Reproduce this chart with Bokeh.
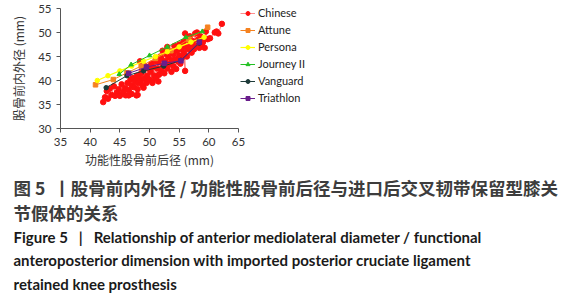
from bokeh.plotting import figure
from bokeh.models import Legend, LegendItem, FixedTicker, Range1d, LinearAxis
from bokeh.core.properties import value
from bokeh.embed import file_html
from bokeh.resources import INLINE

# ---- data ----
chinese_x = [42.2, 42.5, 42.8, 43.0, 43.3, 43.6, 44.0, 44.2, 44.5, 44.8, 45.0, 45.0, 45.3, 45.6, 45.9,
             46.0, 46.3, 46.5, 46.5, 46.8, 47.0, 47.0, 47.2, 47.4, 47.6, 47.8, 47.9, 48.0, 48.0, 48.1,
             48.2, 48.4, 48.5, 48.6, 48.8, 49.0, 49.0, 49.1, 49.3, 49.5, 49.6, 49.8, 50.0, 50.2, 50.3,
             50.5, 50.5, 50.6, 50.8, 51.0, 51.1, 51.3, 51.5, 51.5, 51.6, 51.8, 52.0, 52.0, 52.2, 52.3,
             52.5, 52.6, 52.8, 53.0, 53.0, 53.2, 53.4, 53.5, 53.7, 53.8, 54.0, 54.0, 54.2, 54.4, 54.5,
             54.6, 54.8, 55.0, 55.0, 55.2, 55.4, 55.5, 55.7, 55.8, 56.0, 56.0, 56.1, 56.3, 56.4, 56.6,
             56.8, 57.0, 57.1, 57.3, 57.5, 57.7, 57.8, 58.0, 58.2, 58.4, 58.6, 58.8, 59.0, 59.3, 59.5,
             59.8, 60.2, 61.0, 61.3, 61.6, 62.2]
chinese_y = [35.5, 36.5, 37.8, 36.2, 38.3, 37.0, 38.8, 36.8, 37.5, 38.2, 37.0, 36.8, 39.2, 37.6, 38.4,
             36.9, 39.5, 38.0, 36.9, 40.2, 37.2, 39.0, 40.5, 38.6, 39.8, 36.9, 41.0, 38.2, 37.0, 39.5,
             40.6, 44.0, 40.0, 41.5, 39.0, 42.2, 38.5, 40.4, 43.0, 39.5, 41.0, 42.5, 40.2, 41.8, 43.5,
             39.8, 39.5, 42.8, 41.0, 44.0, 40.5, 42.5, 43.8, 39.8, 41.2, 45.0, 42.0, 44.6, 46.2, 43.0,
             41.5, 44.0, 45.5, 42.5, 47.0, 44.8, 43.5, 46.0, 41.8, 44.2, 45.5, 43.0, 47.2, 44.5, 42.4,
             46.2, 44.0, 45.2, 47.5, 43.5, 46.5, 44.8, 48.0, 45.8, 42.0, 49.8, 47.0, 45.0, 48.5, 46.5,
             49.2, 47.5, 45.8, 48.2, 46.5, 49.8, 47.2, 50.0, 48.5, 46.8, 49.2, 47.5, 48.0, 46.8, 50.2,
             48.6, 48.8, 50.0, 50.2, 49.8, 51.8]

attune_x = [40.9, 43.9, 46.2, 48.6, 51.0, 53.6, 56.6, 59.8]
attune_y = [39.1, 40.2, 41.6, 43.0, 44.6, 46.2, 48.6, 51.1]

persona_x = [41.2, 43.0, 45.0, 47.0, 49.0, 51.0, 53.0, 55.0, 57.0, 59.2]
persona_y = [40.0, 41.0, 42.0, 43.0, 44.0, 45.0, 46.0, 47.0, 48.0, 49.0]

journey_x = [44.9, 46.9, 50.0, 53.0, 56.1, 58.9]
journey_y = [41.3, 43.3, 45.2, 47.0, 49.0, 50.2]

vanguard_x = [42.7, 46.2, 49.0, 52.4, 55.3, 58.4]
vanguard_y = [38.5, 41.0, 42.0, 43.0, 44.2, 47.8]

triathlon_x = [46.5, 49.5, 52.5, 55.3, 58.4]
triathlon_y = [41.5, 42.8, 43.6, 44.1, 48.0]

x_ticks = [35, 40, 45, 50, 55, 60, 65]
y_ticks = [30, 35, 40, 45, 50, 55]

series_names = ["Chinese", "Attune", "Persona", "Journey II", "Vanguard", "Triathlon"]

x_label = "功能性股骨前后径 (mm)"
y_label = "股骨前内外径 (mm)"
caption_cn = ["图 5\u00a0\u00a0丨股骨前内外径 / 功能性股骨前后径与进口后交叉韧带保留型膝关",
              "节假体的关系"]
caption_en = ["Figure 5\u00a0\u00a0\u00a0|\u00a0\u00a0\u00a0Relationship of anterior mediolateral diameter / functional",
              "anteroposterior dimension with imported posterior cruciate ligament",
              "retained knee prosthesis"]

# ---- layout: the frame spans the whole canvas; the axis box sits at pixels
# x 60..238 and y 8..128 ----
W, H = 577, 300
PX0, PX1, PY0, PY1 = 60, 238, 8, 128
X0, X1, Y0, Y1 = x_ticks[0], x_ticks[-1], y_ticks[0], y_ticks[-1]
kx = (PX1 - PX0) / (X1 - X0)
ky = (PY1 - PY0) / (Y1 - Y0)
xr = Range1d(X0 - PX0 / kx, X0 + (W - PX0) / kx)
yr = Range1d(Y0 - (H - PY1) / ky, Y1 + PY0 / ky)

def px_x(px):
    return X0 + (px - PX0) / kx

def px_y(py):
    return Y0 + (PY1 - py) / ky

p = figure(width=W, height=H, output_backend="svg", toolbar_location=None,
           x_range=xr, y_range=yr, x_axis_location=None, y_axis_location=None,
           min_border=0, min_border_left=0, min_border_right=0,
           min_border_top=0, min_border_bottom=0)
p.outline_line_color = None
p.grid.visible = False

xa = LinearAxis(fixed_location=Y0, bounds=(X0, X1), ticker=FixedTicker(ticks=x_ticks),
                axis_label=x_label)
ya = LinearAxis(fixed_location=X0, bounds=(Y0, Y1), ticker=FixedTicker(ticks=y_ticks),
                axis_label=y_label)
p.add_layout(xa, "below")
p.add_layout(ya, "left")

ax_col = "#555555"
for ax in (xa, ya):
    ax.axis_line_color = ax_col
    ax.major_tick_line_color = ax_col
    ax.minor_tick_line_color = None
    ax.major_tick_in = 0
    ax.major_tick_out = 4
    ax.major_label_text_font = "Lato"
    ax.major_label_text_font_size = "11.5px"
    ax.major_label_text_color = "#333333"
    ax.axis_label_text_font = "Noto Sans CJK SC"
    ax.axis_label_text_font_size = "12px"
    ax.axis_label_text_font_style = "normal"
    ax.axis_label_text_color = "#333333"
xa.axis_label_standoff = 2
ya.axis_label_standoff = 8

colors = ["#FF1010", "#F58220", "#FFFF00", "#22C022", "#1E3B3A", "#6A1E8C"]

r_cn_line = p.line(chinese_x, chinese_y, line_color=colors[0], line_width=0.8, line_alpha=0.6)
r_cn = p.scatter(chinese_x, chinese_y, size=5.5, color=colors[0])

r_at_l = p.line(attune_x, attune_y, line_color=colors[1], line_width=1)
r_at = p.scatter(attune_x, attune_y, size=4.5, color=colors[1], marker="square")
r_pe_l = p.line(persona_x, persona_y, line_color=colors[2], line_width=1.2)
r_pe = p.scatter(persona_x, persona_y, size=4.5, color=colors[2])
r_jo_l = p.line(journey_x, journey_y, line_color=colors[3], line_width=1)
r_jo = p.scatter(journey_x, journey_y, size=4.5, color=colors[3], marker="triangle")
r_va_l = p.line(vanguard_x, vanguard_y, line_color=colors[4], line_width=1)
r_va = p.scatter(vanguard_x, vanguard_y, size=4.5, color=colors[4])
r_tr_l = p.line(triathlon_x, triathlon_y, line_color=colors[5], line_width=1)
r_tr = p.scatter(triathlon_x, triathlon_y, size=4.5, color=colors[5], marker="square")

items = [
    LegendItem(label=series_names[0], renderers=[r_cn_line, r_cn]),
    LegendItem(label=series_names[1], renderers=[r_at_l, r_at]),
    LegendItem(label=series_names[2], renderers=[r_pe_l, r_pe]),
    LegendItem(label=series_names[3], renderers=[r_jo_l, r_jo]),
    LegendItem(label=series_names[4], renderers=[r_va_l, r_va]),
    LegendItem(label=series_names[5], renderers=[r_tr_l, r_tr]),
]
legend = Legend(items=items, location=(240, H - 104), border_line_color=None,
                background_fill_alpha=0, label_text_font="Lato",
                label_text_font_size="11px", label_text_color="#222222",
                glyph_width=15, glyph_height=10, label_standoff=3,
                spacing=4, padding=0, margin=0, label_height=10)
p.add_layout(legend, "center")

# ---- caption ----
cn_py = [187, 212]
p.text(x=[px_x(13)] * len(caption_cn), y=[px_y(v) for v in cn_py], text=caption_cn,
       text_font=value("Noto Sans CJK SC"), text_font_size="17.5px",
       text_font_style="bold", text_color="#3d3d3d",
       text_baseline="middle", text_align="left")
en_py = [236, 259, 283]
p.text(x=[px_x(13)] * len(caption_en), y=[px_y(v) for v in en_py], text=caption_en,
       text_font=value("Lato"), text_font_size="15px",
       text_font_style="bold", text_color="#1a1a1a",
       text_baseline="middle", text_align="left")

open("out.html", "w").write(file_html(p, INLINE))
